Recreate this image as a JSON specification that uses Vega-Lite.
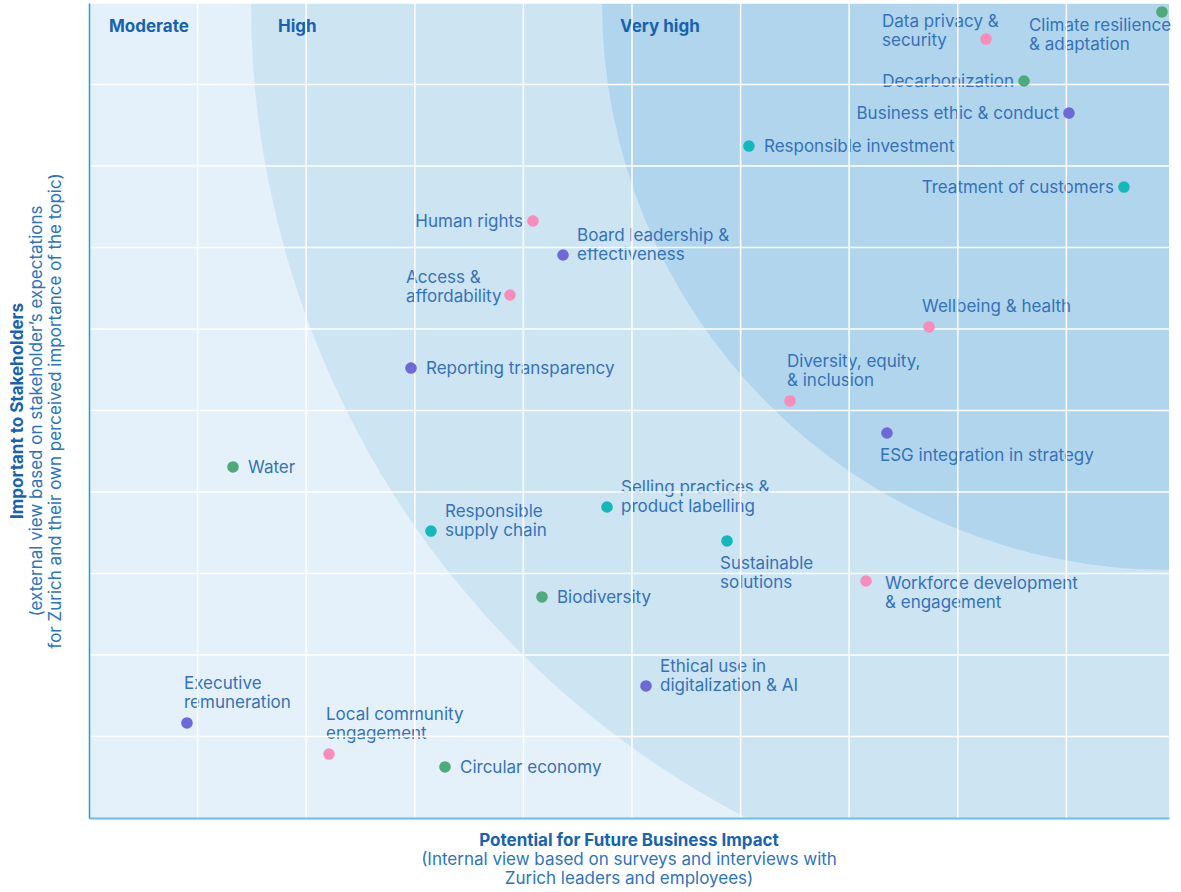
{
  "$schema": "https://vega.github.io/schema/vega-lite/v6.json",
  "width": 1080,
  "height": 815,
  "autosize": "none",
  "padding": {"left": 89, "top": 3, "right": 12, "bottom": 74},
  "background": "white",
  "config": {"view": {"fill": "#e5f1fa", "stroke": null}, "font": "Inter"},
  "title": {
    "text": "Potential for Future Business Impact",
    "subtitle": ["(Internal view based on surveys and interviews with", "Zurich leaders and employees)"],
    "orient": "bottom",
    "anchor": "middle",
    "frame": "group",
    "font": "Inter",
    "fontSize": 17,
    "fontWeight": "bold",
    "color": "#1763b0",
    "subtitleFont": "Inter",
    "subtitleFontSize": 17,
    "subtitleColor": "#2d74c0",
    "subtitleLineHeight": 19,
    "subtitlePadding": 2,
    "offset": 14
  },
  "datasets": {
    "zones": [
      {"zone": "High", "x": 9.945, "y": 10},
      {"zone": "Very high", "x": 9.945, "y": 10}
    ],
    "gridx": [{"v": 1}, {"v": 2}, {"v": 3}, {"v": 4}, {"v": 5}, {"v": 6}, {"v": 7}, {"v": 8}, {"v": 9}],
    "gridy": [{"v": 1}, {"v": 2}, {"v": 3}, {"v": 4}, {"v": 5}, {"v": 6}, {"v": 7}, {"v": 8}, {"v": 9}, {"v": 10}],
    "bands": [
      {"band": "Moderate", "x": 0.184, "y": 9.71},
      {"band": "High", "x": 1.74, "y": 9.71},
      {"band": "Very high", "x": 4.89, "y": 9.71}
    ],
    "topics": [
      {"topic": "Data privacy &\nsecurity", "group": "Social", "x": 8.26, "y": 9.558, "placement": "upper-left"},
      {"topic": "Climate resilience\n& adaptation", "group": "Environmental", "x": 9.88, "y": 9.89, "placement": "climate"},
      {"topic": "Decarbonization", "group": "Environmental", "x": 8.61, "y": 9.043, "placement": "left"},
      {"topic": "Business ethic & conduct", "group": "Governance", "x": 9.024, "y": 8.65, "placement": "left"},
      {"topic": "Responsible investment", "group": "Business", "x": 6.077, "y": 8.245, "placement": "right"},
      {"topic": "Treatment of customers", "group": "Business", "x": 9.53, "y": 7.742, "placement": "left"},
      {"topic": "Human rights", "group": "Social", "x": 4.088, "y": 7.325, "placement": "left"},
      {"topic": "Board leadership &\neffectiveness", "group": "Governance", "x": 4.365, "y": 6.908, "placement": "right-up"},
      {"topic": "Access &\naffordability", "group": "Social", "x": 3.877, "y": 6.417, "placement": "upper-left"},
      {"topic": "Wellbeing & health", "group": "Social", "x": 7.735, "y": 6.025, "placement": "above-single"},
      {"topic": "Reporting transparency", "group": "Governance", "x": 2.965, "y": 5.521, "placement": "right"},
      {"topic": "Diversity, equity,\n& inclusion", "group": "Social", "x": 6.455, "y": 5.117, "placement": "above"},
      {"topic": "ESG integration in strategy", "group": "Governance", "x": 7.348, "y": 4.724, "placement": "below"},
      {"topic": "Water", "group": "Environmental", "x": 1.326, "y": 4.307, "placement": "right"},
      {"topic": "Selling practices &\nproduct labelling", "group": "Business", "x": 4.77, "y": 3.816, "placement": "right-up"},
      {"topic": "Responsible\nsupply chain", "group": "Business", "x": 3.149, "y": 3.521, "placement": "right-up"},
      {"topic": "Sustainable\nsolutions", "group": "Business", "x": 5.875, "y": 3.399, "placement": "below"},
      {"topic": "Workforce development\n& engagement", "group": "Social", "x": 7.155, "y": 2.908, "placement": "right-down"},
      {"topic": "Biodiversity", "group": "Environmental", "x": 4.171, "y": 2.712, "placement": "right"},
      {"topic": "Ethical use in\ndigitalization & AI", "group": "Governance", "x": 5.129, "y": 1.62, "placement": "right-up"},
      {"topic": "Executive\nremuneration", "group": "Governance", "x": 0.902, "y": 1.166, "placement": "above"},
      {"topic": "Local community\nengagement", "group": "Social", "x": 2.21, "y": 0.785, "placement": "above"},
      {"topic": "Circular economy", "group": "Environmental", "x": 3.278, "y": 0.626, "placement": "right"}
    ]
  },
  "layer": [
    {
      "data": {"name": "zones"},
      "transform": [{"filter": "datum.zone === 'High'"}],
      "mark": {"type": "arc", "radius": 918, "theta": 3.14159265, "theta2": 4.71238898, "fill": "#cde4f3", "clip": true},
      "encoding": {
        "x": {"field": "x", "type": "quantitative", "scale": {"domain": [0, 9.945], "nice": false, "zero": false},
          "axis": {"title": null, "grid": false, "labels": false, "ticks": false, "domainColor": "#6cbde6", "domainWidth": 2, "zindex": 1}},
        "y": {"field": "y", "type": "quantitative", "scale": {"domain": [0, 10], "nice": false, "zero": false},
          "axis": {"title": "Important to Stakeholders", "titleFont": "Inter", "titleFontWeight": "bold", "titleFontSize": 17, "titleColor": "#1763b0", "titlePadding": 63, "grid": false, "labels": false, "ticks": false, "domainColor": "#1aa0dc", "domainWidth": 1.5, "zindex": 1}}
      }
    },
    {
      "data": {"name": "zones"},
      "transform": [{"filter": "datum.zone === 'Very high'"}],
      "mark": {"type": "arc", "radius": 567, "theta": 3.14159265, "theta2": 4.71238898, "fill": "#b1d5ec", "clip": true},
      "encoding": {
        "x": {"field": "x", "type": "quantitative"},
        "y": {"field": "y", "type": "quantitative",
          "axis": {"orient": "left", "title": ["(external view based on stakeholder’s expectations", "for Zurich and their own perceived importance of the topic)"], "titleFont": "Inter", "titleFontWeight": "normal", "titleFontSize": 17, "titleColor": "#2d74c0", "titleLineHeight": 19, "titlePadding": 25, "grid": false, "labels": false, "ticks": false, "domain": false}}
      }
    },
    {
      "data": {"name": "bands"},
      "mark": {"type": "text", "align": "left", "baseline": "middle", "font": "Inter", "fontSize": 17, "fontWeight": "bold", "color": "#1763b0"},
      "encoding": {
        "x": {"field": "x", "type": "quantitative"},
        "y": {"field": "y", "type": "quantitative", "axis": null},
        "text": {"field": "band"}
      }
    },
    {
      "data": {"name": "topics"},
      "transform": [{"filter": "datum.placement === 'right'"}],
      "mark": {"type": "text", "align": "left", "baseline": "middle", "dx": 15, "dy": 1, "lineBreak": "\n", "lineHeight": 19, "font": "Inter", "fontSize": 17, "color": "#3572b9"},
      "encoding": {"x": {"field": "x", "type": "quantitative"}, "y": {"field": "y", "type": "quantitative", "axis": null}, "text": {"field": "topic"}}
    },
    {
      "data": {"name": "topics"},
      "transform": [{"filter": "datum.placement === 'right-up'"}],
      "mark": {"type": "text", "align": "left", "baseline": "middle", "dx": 14, "dy": -19, "lineBreak": "\n", "lineHeight": 19, "font": "Inter", "fontSize": 17, "color": "#3572b9"},
      "encoding": {"x": {"field": "x", "type": "quantitative"}, "y": {"field": "y", "type": "quantitative", "axis": null}, "text": {"field": "topic"}}
    },
    {
      "data": {"name": "topics"},
      "transform": [{"filter": "datum.placement === 'right-down'"}],
      "mark": {"type": "text", "align": "left", "baseline": "middle", "dx": 19, "dy": 3, "lineBreak": "\n", "lineHeight": 19, "font": "Inter", "fontSize": 17, "color": "#3572b9"},
      "encoding": {"x": {"field": "x", "type": "quantitative"}, "y": {"field": "y", "type": "quantitative", "axis": null}, "text": {"field": "topic"}}
    },
    {
      "data": {"name": "topics"},
      "transform": [{"filter": "datum.placement === 'left'"}],
      "mark": {"type": "text", "align": "right", "baseline": "middle", "dx": -10, "dy": 1, "lineBreak": "\n", "lineHeight": 19, "font": "Inter", "fontSize": 17, "color": "#3572b9"},
      "encoding": {"x": {"field": "x", "type": "quantitative"}, "y": {"field": "y", "type": "quantitative", "axis": null}, "text": {"field": "topic"}}
    },
    {
      "data": {"name": "topics"},
      "transform": [{"filter": "datum.placement === 'upper-left'"}],
      "mark": {"type": "text", "align": "left", "baseline": "middle", "dx": -104, "dy": -17, "lineBreak": "\n", "lineHeight": 19, "font": "Inter", "fontSize": 17, "color": "#3572b9"},
      "encoding": {"x": {"field": "x", "type": "quantitative"}, "y": {"field": "y", "type": "quantitative", "axis": null}, "text": {"field": "topic"}}
    },
    {
      "data": {"name": "topics"},
      "transform": [{"filter": "datum.placement === 'above-single'"}],
      "mark": {"type": "text", "align": "left", "baseline": "middle", "dx": -7, "dy": -20, "lineBreak": "\n", "lineHeight": 19, "font": "Inter", "fontSize": 17, "color": "#3572b9"},
      "encoding": {"x": {"field": "x", "type": "quantitative"}, "y": {"field": "y", "type": "quantitative", "axis": null}, "text": {"field": "topic"}}
    },
    {
      "data": {"name": "topics"},
      "transform": [{"filter": "datum.placement === 'above'"}],
      "mark": {"type": "text", "align": "left", "baseline": "middle", "dx": -3, "dy": -39, "lineBreak": "\n", "lineHeight": 19, "font": "Inter", "fontSize": 17, "color": "#3572b9"},
      "encoding": {"x": {"field": "x", "type": "quantitative"}, "y": {"field": "y", "type": "quantitative", "axis": null}, "text": {"field": "topic"}}
    },
    {
      "data": {"name": "topics"},
      "transform": [{"filter": "datum.placement === 'below'"}],
      "mark": {"type": "text", "align": "left", "baseline": "middle", "dx": -7, "dy": 23, "lineBreak": "\n", "lineHeight": 19, "font": "Inter", "fontSize": 17, "color": "#3572b9"},
      "encoding": {"x": {"field": "x", "type": "quantitative"}, "y": {"field": "y", "type": "quantitative", "axis": null}, "text": {"field": "topic"}}
    },
    {
      "data": {"name": "topics"},
      "transform": [{"filter": "datum.placement === 'climate'"}],
      "mark": {"type": "text", "align": "left", "baseline": "middle", "dx": -133, "dy": 14, "lineBreak": "\n", "lineHeight": 19, "font": "Inter", "fontSize": 17, "color": "#3572b9"},
      "encoding": {"x": {"field": "x", "type": "quantitative"}, "y": {"field": "y", "type": "quantitative", "axis": null}, "text": {"field": "topic"}}
    },
    {
      "data": {"name": "gridx"},
      "mark": {"type": "rule", "color": "#ffffff", "strokeWidth": 1.5},
      "encoding": {"x": {"field": "v", "type": "quantitative"}}
    },
    {
      "data": {"name": "gridy"},
      "mark": {"type": "rule", "color": "#ffffff", "strokeWidth": 1.5},
      "encoding": {"y": {"field": "v", "type": "quantitative", "axis": null}}
    },
    {
      "data": {"name": "topics"},
      "mark": {"type": "circle", "size": 135, "opacity": 1},
      "encoding": {
        "x": {"field": "x", "type": "quantitative"},
        "y": {"field": "y", "type": "quantitative", "axis": null},
        "color": {"field": "group", "type": "nominal", "legend": null,
          "scale": {"domain": ["Social", "Environmental", "Governance", "Business"], "range": ["#f88dbb", "#4ea97b", "#6f69d6", "#14b8ba"]}}
      }
    }
  ],
  "resolve": {"axis": {"y": "independent"}}
}
